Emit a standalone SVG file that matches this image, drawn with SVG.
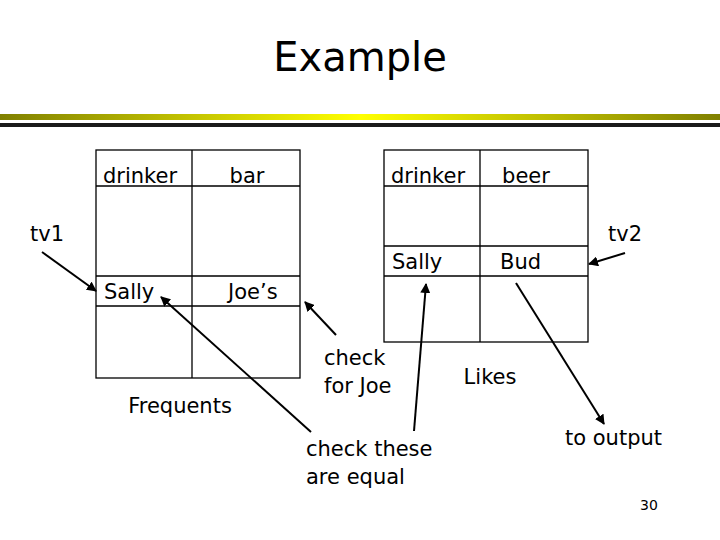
<svg xmlns="http://www.w3.org/2000/svg" width="720" height="540" viewBox="0 0 720 540">
<defs>
<linearGradient id="yg" x1="0" x2="1" y1="0" y2="0"><stop offset="0" stop-color="#808000"/><stop offset="0.5" stop-color="#ffff00"/><stop offset="1" stop-color="#808000"/></linearGradient>
<marker id="ah" viewBox="0 0 10 10" refX="9" refY="5" markerWidth="5" markerHeight="5" orient="auto"><path d="M0,0 L10,5 L0,10 z" fill="#000"/></marker>
<style>
text{font-family:"DejaVu Sans","Liberation Sans",sans-serif;font-size:21px;fill:#000}
.t{fill:none;stroke:#000;stroke-width:1.3}
.c line{stroke:#000;stroke-width:2;marker-end:url(#ah)}
</style>
</defs>
<rect width="720" height="540" fill="#fff"/>
<text x="360" y="71" text-anchor="middle" style="font-size:40px">Example</text>
<rect x="0" y="114" width="720" height="6" fill="url(#yg)"/>
<rect x="0" y="123" width="720" height="4" fill="#1a1a1a"/>
<g id="frequents">
<rect class="t" x="96" y="150" width="204" height="228"/>
<path class="t" d="M192,150V378M96,186H300M96,276H300M96,306H300"/>
<text x="140" y="183" text-anchor="middle">drinker</text>
<text x="247" y="183" text-anchor="middle">bar</text>
<text x="104" y="299">Sally</text>
<text x="228" y="299">Joe’s</text>
<text x="180" y="413" text-anchor="middle">Frequents</text>
</g>
<g id="likes">
<rect class="t" x="384" y="150" width="204" height="192"/>
<path class="t" d="M480,150V342M384,186H588M384,246H588M384,276H588"/>
<text x="428" y="183" text-anchor="middle">drinker</text>
<text x="526" y="183" text-anchor="middle">beer</text>
<text x="392" y="269">Sally</text>
<text x="500" y="269">Bud</text>
<text x="490" y="384" text-anchor="middle">Likes</text>
</g>
<g id="labels">
<text x="30" y="241">tv1</text>
<text x="608" y="241">tv2</text>
<text x="324" y="365">check</text>
<text x="324" y="393">for Joe</text>
<text x="306" y="456">check these</text>
<text x="306" y="484">are equal</text>
<text x="565" y="445">to output</text>
<text x="640" y="510" style="font-size:14px">30</text>
</g>
<g class="c" id="connectors">
<line x1="42" y1="252" x2="96" y2="291"/>
<line x1="311" y1="432" x2="161" y2="297"/>
<line x1="336" y1="335" x2="305" y2="302"/>
<line x1="625" y1="253" x2="589" y2="264"/>
<line x1="414" y1="431" x2="426" y2="284"/>
<line x1="516" y1="283" x2="604" y2="424"/>
</g>
</svg>
